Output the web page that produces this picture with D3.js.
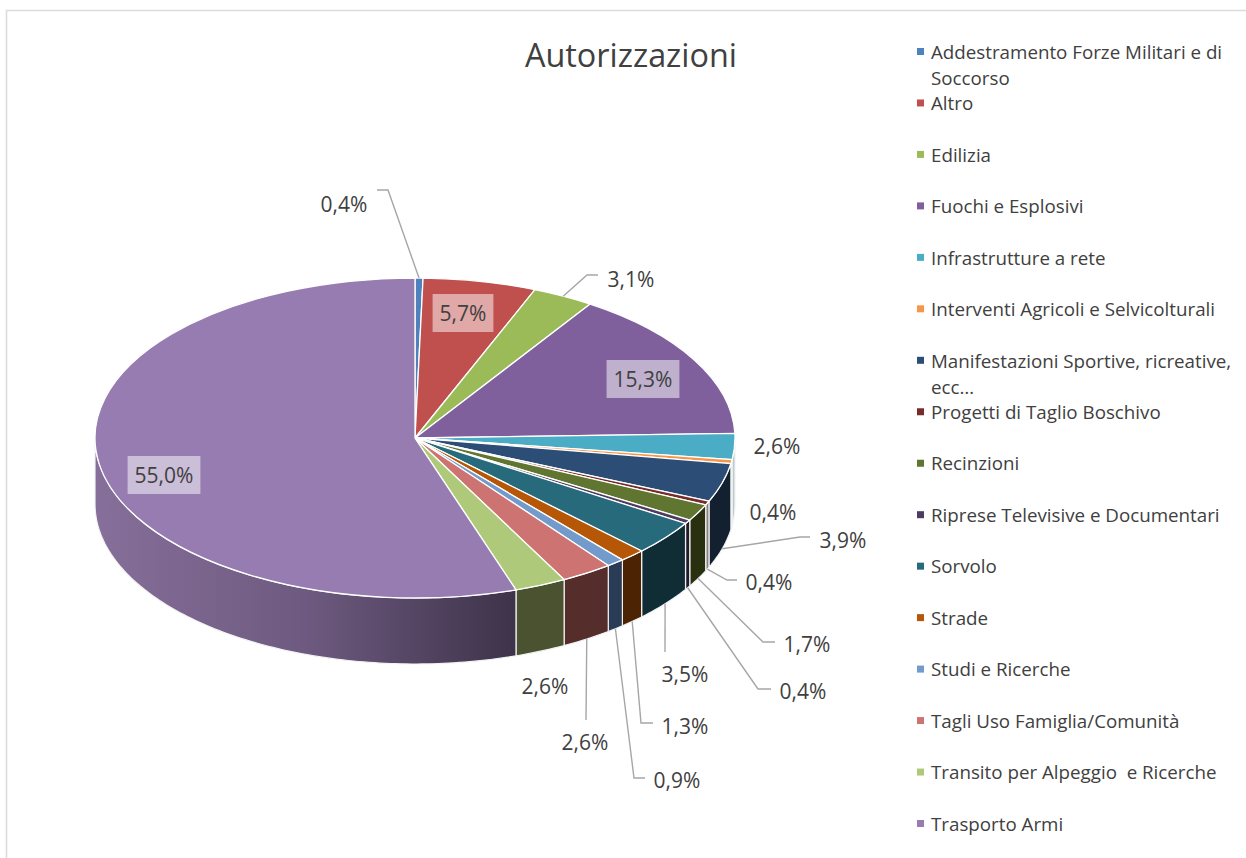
<!DOCTYPE html>
<html>
<head>
<meta charset="utf-8">
<script src="https://cdn.jsdelivr.net/npm/d3@7"></script>
<style>
    html, body { margin: 0; padding: 0; background: #fff; }
    svg { display: block; font-family: "Open Sans", sans-serif; }
</style>
</head>
<body>
<div id="chart"></div>
<script>
var categories = [
    "Addestramento Forze Militari e di Soccorso", "Altro", "Edilizia", "Fuochi e Esplosivi",
    "Infrastrutture a rete", "Interventi Agricoli e Selvicolturali",
    "Manifestazioni Sportive, ricreative, ecc…", "Progetti di Taglio Boschivo", "Recinzioni",
    "Riprese Televisive e Documentari", "Sorvolo", "Strade", "Studi e Ricerche",
    "Tagli Uso Famiglia/Comunità", "Transito per Alpeggio  e Ricerche", "Trasporto Armi"
];
var values = [0.4, 5.7, 3.1, 15.3, 2.6, 0.4, 3.9, 0.4, 1.7, 0.4, 3.5, 1.3, 0.9, 2.6, 2.6, 55.0];

var topColors = ["#4f81bd", "#c0504d", "#9bbb59", "#7f609d", "#4bacc6", "#f79646", "#2c4d75", "#772c2a",
    "#5f7530", "#4d3b62", "#276a7c", "#b65708", "#729aca", "#cd7371", "#afc97a", "#967cb0"];
var wallColors = ["#2a3b55", "#5c2624", "#4a5a2a", "#3d2e4c", "#b9cbd0", "#b9cbd0", "#12202f", "#8a7f7f",
    "#28300f", "#221a2c", "#102d36", "#4c2404", "#2a3b55", "#552d2b", "#4a5230", "url(#wallGrad)"];

// label placement, index = slice
var labelPos = {
    0: [344, 204], 1: [463, 313], 2: [631, 279], 3: [643, 379], 4: [777, 446], 5: [773, 512],
    6: [843, 540], 7: [769, 582], 8: [807, 644], 9: [803, 691], 10: [685, 674], 11: [685, 726],
    12: [677, 780], 13: [585, 742], 14: [545, 686], 15: [164, 475]
};
// leader line bends after the point on the pie rim
var leaderBends = {
    0: [[388, 190], [377, 190]],
    2: [[587, 275], [598, 275]],
    6: [[800, 537], [810, 537]],
    7: [[727, 580], [737, 580]],
    8: [[763, 642], [775, 642]],
    9: [[758, 689], [771, 689]],
    10: [[665, 652]],
    11: [[641, 723], [653, 723]],
    12: [[634, 778], [645, 778]],
    13: [[586, 720]]
};
var boxed = [1, 3, 15];

var w = 1246, h = 858;
var cx = 415, cy = 438, rx = 320, ry = 160, depth = 66;
var textColor = "#404040";

var svg = d3.select("#chart").append("svg").attr("width", w).attr("height", h);

var grad = svg.append("defs").append("linearGradient")
    .attr("id", "wallGrad")
    .attr("gradientUnits", "userSpaceOnUse")
    .attr("x1", cx - rx).attr("x2", 514).attr("y1", 0).attr("y2", 0);
grad.append("stop").attr("offset", "0").attr("stop-color", "#866f9a");
grad.append("stop").attr("offset", "0.5").attr("stop-color", "#6e5a80");
grad.append("stop").attr("offset", "1").attr("stop-color", "#3e334a");

// chart frame
svg.append("path")
    .attr("d", "M6.5," + h + "V10.5H" + w)
    .attr("fill", "none")
    .attr("stroke", "#dcdcdc")
    .attr("stroke-width", 1.6);

svg.append("text")
    .attr("x", 631).attr("y", 67)
    .attr("text-anchor", "middle")
    .attr("font-size", 32.4)
    .attr("fill", textColor)
    .text("Autorizzazioni");

var xscale = d3.scaleLinear().domain([-1, 1]).range([cx - rx, cx + rx]);
var yscale = d3.scaleLinear().domain([-1, 1]).range([cy - ry, cy + ry]);

var slices = d3.pie().sort(null)(values);

function rimX(a) { return xscale(Math.sin(a)); }
function rimY(a) { return yscale(-Math.cos(a)); }

// outer wall, only the part facing the viewer
var wallArea = d3.area()
    .x(function (a) { return rimX(a); })
    .y0(function (a) { return rimY(a); })
    .y1(function (a) { return rimY(a) + depth; });

slices.forEach(function (s, i) {
    var a0 = Math.max(s.startAngle, Math.PI / 2);
    var a1 = Math.min(s.endAngle, Math.PI * 1.5);
    if (a1 <= a0) return;
    var n = Math.max(2, Math.ceil((a1 - a0) * 60));
    var steps = d3.range(n + 1).map(function (k) { return a0 + (a1 - a0) * k / n; });
    svg.append("path")
        .attr("d", wallArea(steps))
        .attr("fill", wallColors[i])
        .attr("stroke", "#f2f2f2")
        .attr("stroke-width", 1.2);
});

// top of the pie: circle arcs squashed into the ellipse
var arc = d3.arc().innerRadius(0).outerRadius(rx);
svg.append("g")
    .attr("transform", "translate(" + cx + "," + cy + ") scale(1," + (ry / rx) + ")")
    .selectAll("path")
    .data(slices)
    .enter().append("path")
    .attr("d", arc)
    .attr("fill", function (d, i) { return topColors[i]; })
    .attr("stroke", "#fff")
    .attr("stroke-width", 1.3)
    .attr("vector-effect", "non-scaling-stroke");

// leader lines start on the rim at the middle of the slice
var line = d3.line();
Object.keys(leaderBends).forEach(function (k) {
    var i = +k;
    var mid = (slices[i].startAngle + slices[i].endAngle) / 2;
    var front = mid > Math.PI / 2 && mid < Math.PI * 1.5;
    var start = [rimX(mid), rimY(mid) + (front ? depth : 0)];
    svg.append("path")
        .attr("d", line([start].concat(leaderBends[k])))
        .attr("fill", "none")
        .attr("stroke", "#a6a6a6")
        .attr("stroke-width", 1.4);
});

// data labels
values.forEach(function (v, i) {
    var g = svg.append("g");
    var t = g.append("text")
        .attr("x", labelPos[i][0]).attr("y", labelPos[i][1])
        .attr("dy", "0.36em")
        .attr("text-anchor", "middle")
        .attr("font-size", 21)
        .attr("fill", textColor)
        .text(d3.format(".1f")(v).replace(".", ",") + "%");
    if (boxed.indexOf(i) >= 0) {
        var tw = t.node().getComputedTextLength();
        g.insert("rect", "text")
            .attr("x", labelPos[i][0] - tw / 2 - 7)
            .attr("y", labelPos[i][1] - 19)
            .attr("width", tw + 14)
            .attr("height", 38)
            .attr("fill", "#fff")
            .attr("fill-opacity", 0.5);
    }
});

// legend
var legendY = d3.scaleLinear().domain([0, categories.length - 1]).range([52, 824]);
var legendWrap = 306;

categories.forEach(function (c, i) {
    var y = legendY(i);
    svg.append("rect")
        .attr("x", 917).attr("y", y - 4)
        .attr("width", 7).attr("height", 7)
        .attr("fill", topColors[i]);

    var t = svg.append("text")
        .attr("x", 931).attr("y", y)
        .attr("dy", "0.36em")
        .attr("font-size", 18.75)
        .attr("fill", textColor);
    t.style("white-space", "pre");
    // word wrap
    var words = c.split(" ");
    var cur = [];
    var span = t.append("tspan").attr("x", 931);
    words.forEach(function (word) {
        cur.push(word);
        span.text(cur.join(" "));
        if (span.node().getComputedTextLength() > legendWrap && cur.length > 1) {
            cur.pop();
            span.text(cur.join(" "));
            cur = [word];
            span = t.append("tspan").attr("x", 931).attr("dy", 26).text(word);
        }
    });
});
</script>
</body>
</html>
